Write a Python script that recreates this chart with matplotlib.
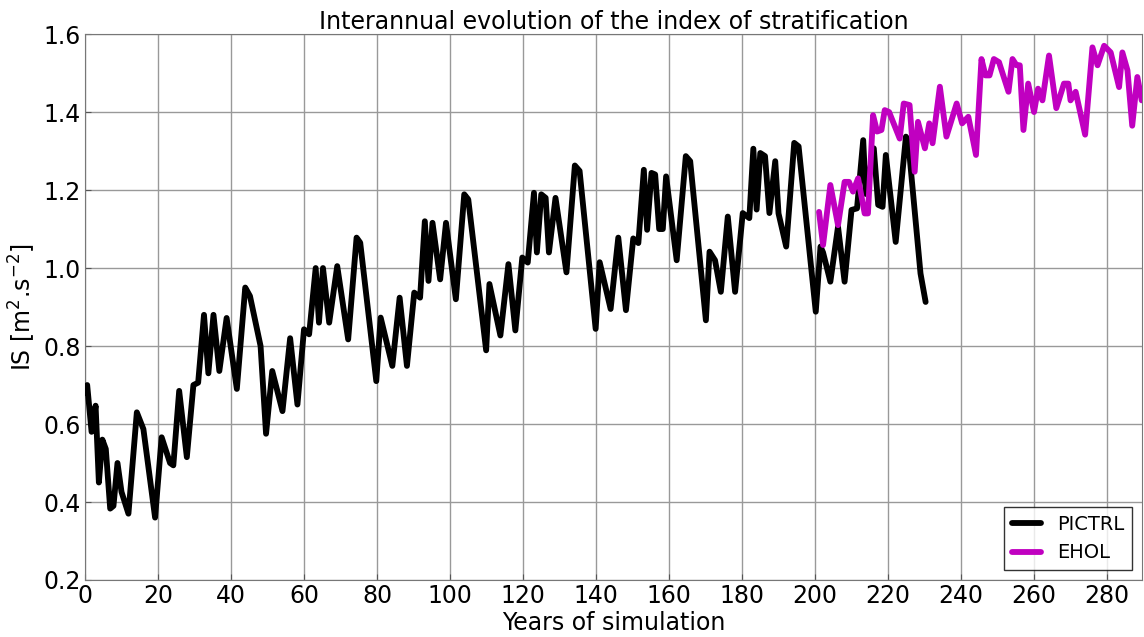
import numpy as np
import matplotlib
matplotlib.use('Agg')
import matplotlib.pyplot as plt

# PICTRL run (years, index of stratification)
pictrl_years = [0.0, 0.6, 1.8, 2.9, 3.8, 4.75, 5.7, 6.9, 7.8, 8.9, 10.0, 11.9, 14.2, 16.0,
                19.2, 21.0, 23.3, 24.2, 25.8, 27.9, 29.7, 31.0, 32.6, 33.8, 35.2, 36.8,
                38.8, 41.6, 43.9, 45.2, 48.1, 49.6, 51.3, 54.1, 56.2, 58.2, 60.0, 61.4,
                63.2, 64.1, 65.2, 66.9, 69.1, 72.1, 74.4, 75.4, 79.8, 81.0, 84.2, 86.2,
                88.2, 90.2, 91.8, 93.1, 94.1, 95.2, 97.3, 98.9, 101.6, 103.9, 105.0,
                109.9, 110.8, 113.8, 116.0, 117.9, 119.8, 121.3, 123.0, 123.8, 125.0,
                126.2, 127.1, 128.9, 131.9, 134.2, 135.5, 139.9, 141.0, 144.0, 146.1,
                148.2, 150.2, 151.6, 153.1, 154.0, 155.2, 156.2, 157.3, 158.3, 159.2,
                162.1, 164.6, 165.8, 170.1, 171.1, 172.6, 174.2, 176.1, 178.1, 180.2,
                182.0, 183.1, 184.0, 185.0, 186.3, 187.5, 189.1, 190.0, 192.1, 194.3,
                195.5, 200.2, 201.5, 202.2, 204.2, 206.3, 208.1, 210.0, 211.5, 213.2,
                213.9, 216.1, 217.3, 218.5, 219.4, 222.1, 224.9, 225.5, 228.9, 230.3]
pictrl_is = [0.68, 0.70, 0.58, 0.647, 0.45, 0.56, 0.536, 0.383, 0.39, 0.50, 0.426, 0.37,
             0.63, 0.587, 0.36, 0.566, 0.50, 0.494, 0.685, 0.515, 0.70, 0.706, 0.88, 0.73,
             0.88, 0.736, 0.872, 0.69, 0.95, 0.928, 0.80, 0.575, 0.736, 0.633, 0.82, 0.65,
             0.843, 0.83, 1.0, 0.86, 1.0, 0.86, 1.005, 0.817, 1.078, 1.065, 0.71, 0.873,
             0.749, 0.924, 0.749, 0.937, 0.924, 1.12, 0.967, 1.116, 0.971, 1.116, 0.92,
             1.189, 1.176, 0.789, 0.959, 0.827, 1.01, 0.84, 1.027, 1.014, 1.193, 1.04,
             1.189, 1.18, 1.04, 1.18, 0.989, 1.263, 1.249, 0.844, 1.015, 0.895, 1.078,
             0.892, 1.076, 1.064, 1.252, 1.098, 1.244, 1.24, 1.10, 1.10, 1.235, 1.02,
             1.287, 1.274, 0.866, 1.042, 1.02, 0.939, 1.132, 0.939, 1.141, 1.128, 1.306,
             1.15, 1.295, 1.287, 1.141, 1.274, 1.14, 1.055, 1.321, 1.312, 0.888, 1.055,
             1.04, 0.965, 1.106, 0.965, 1.149, 1.153, 1.328, 1.19, 1.307, 1.162, 1.157,
             1.29, 1.067, 1.337, 1.328, 0.986, 0.913]

# EHOL run
ehol_years = [201.1, 202.2, 204.2, 206.3, 208.1, 209.3, 210.4, 211.8, 213.6, 214.5, 215.9,
              217.0, 218.2, 219.1, 220.3, 223.2, 224.3, 225.9, 227.3, 228.2, 230.1, 231.3,
              232.2, 234.2, 236.0, 238.8, 240.3, 242.0, 244.1, 245.6, 246.7, 247.8, 249.0,
              250.4, 253.0, 254.1, 255.2, 256.1, 257.1, 258.4, 260.0, 261.1, 262.3, 264.1,
              266.1, 268.2, 269.4, 270.0, 271.4, 274.0, 276.0, 277.4, 279.2, 281.0, 283.3,
              284.2, 285.6, 286.9, 288.3, 289.5]
ehol_is = [1.144, 1.059, 1.213, 1.11, 1.221, 1.221, 1.196, 1.23, 1.14, 1.14, 1.392, 1.35,
           1.354, 1.405, 1.40, 1.332, 1.422, 1.418, 1.247, 1.375, 1.307, 1.371, 1.32, 1.465,
           1.337, 1.422, 1.371, 1.388, 1.29, 1.536, 1.494, 1.494, 1.536, 1.528, 1.452,
           1.536, 1.52, 1.52, 1.354, 1.473, 1.40, 1.46, 1.43, 1.545, 1.41, 1.473, 1.473,
           1.43, 1.452, 1.342, 1.566, 1.52, 1.57, 1.553, 1.464, 1.553, 1.507, 1.365, 1.49,
           1.43]

x_ticks = np.arange(0, 281, 20)
y_ticks = np.arange(0.2, 1.61, 0.2)


def main():
    fig = plt.figure(figsize=(11.44, 6.37), dpi=100)
    ax = fig.add_axes([0.0743, 0.0895, 0.9237, 0.857])

    ax.plot(pictrl_years, pictrl_is, color='black', lw=4.2,
            solid_joinstyle='round', solid_capstyle='round', label='PICTRL', zorder=3)
    ax.plot(ehol_years, ehol_is, color='#c000c0', lw=4.2,
            solid_joinstyle='round', solid_capstyle='round', label='EHOL', zorder=3)

    ax.set_xlim(0, 289.5)
    ax.set_ylim(0.2, 1.6)
    ax.set_xticks(x_ticks)
    ax.set_yticks(y_ticks)
    ax.set_yticklabels([f'{v:.1f}' for v in y_ticks])
    ax.tick_params(direction='in', labelsize=17, length=4, color='#555555', pad=3)
    ax.grid(True, color='#999999', lw=1.0)
    ax.set_axisbelow(True)
    for s in ax.spines.values():
        s.set_color('#777777')

    ax.set_title('Interannual evolution of the index of stratification', fontsize=17, pad=3)
    ax.set_xlabel('Years of simulation', fontsize=17, labelpad=2)
    ax.set_ylabel(r'IS [m$^2$.s$^{-2}$]', fontsize=17, labelpad=4)

    leg = ax.legend(loc='lower right', fontsize=14, fancybox=False, handlelength=1.5,
                    borderaxespad=0.5)
    leg.get_frame().set_edgecolor('black')
    leg.get_frame().set_linewidth(1.0)

    fig.savefig('out.png', dpi=100)


if __name__ == "__main__":
    main()
